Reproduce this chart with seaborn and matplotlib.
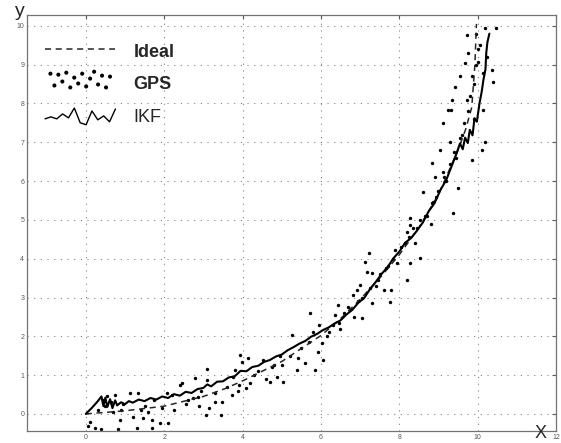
import numpy as np
import pandas as pd
import matplotlib
matplotlib.use("Agg")
import matplotlib.pyplot as plt
import seaborn as sns
from matplotlib.lines import Line2D
from matplotlib.legend_handler import HandlerBase

# Ideal trajectory
ideal_x = [0, 1, 2, 3, 3.55, 4, 5, 6, 6.5, 7, 7.5, 8, 8.5, 9, 9.5, 9.7, 9.85, 9.93, 9.97]
ideal_y = [0, 0.08, 0.2, 0.45, 0.65, 0.85, 1.35, 2.02, 2.45, 2.95, 3.5, 4.1, 4.8, 5.65, 6.8, 7.35, 7.9, 9.0, 10.05]

# IKF estimate
ikf_x = [0, 0.15, 0.3, 0.4, 0.45, 0.5, 0.55, 0.62, 0.68, 0.75, 0.8, 0.9, 1.0, 1.1, 1.2, 1.35,
         1.5, 1.65, 1.8, 1.95, 2.1, 2.25, 2.4, 2.55, 2.7, 2.85, 3.0, 3.1, 3.2, 3.35, 3.5, 3.65,
         3.8, 3.95, 4.1, 4.25, 4.4, 4.55, 4.7, 4.85, 5.0, 5.15, 5.3, 5.45, 5.6, 5.75, 5.9, 6.05,
         6.2, 6.35, 6.5, 6.65, 6.8, 6.95, 7.1, 7.25, 7.4, 7.55, 7.7, 7.85, 8.0, 8.15, 8.3, 8.45,
         8.6, 8.75, 8.9, 9.05, 9.2, 9.35, 9.45, 9.55, 9.62, 9.68, 9.75, 9.8, 9.87, 9.92, 9.98,
         10.05, 10.1, 10.15, 10.2, 10.22, 10.25, 10.3]
ikf_y = [0, 0.15, 0.32, 0.45, 0.2, 0.42, 0.18, 0.38, 0.15, 0.35, 0.22, 0.3, 0.25, 0.33, 0.29, 0.37,
         0.33, 0.41, 0.37, 0.45, 0.41, 0.51, 0.47, 0.57, 0.54, 0.64, 0.67, 0.76, 0.71, 0.83, 0.84, 0.94,
         0.97, 1.11, 1.1, 1.21, 1.24, 1.34, 1.39, 1.48, 1.53, 1.64, 1.72, 1.81, 1.88, 1.99, 2.06, 2.16,
         2.23, 2.33, 2.41, 2.56, 2.68, 2.86, 2.98, 3.21, 3.4, 3.61, 3.78, 4.01, 4.18, 4.41, 4.53, 4.72,
         4.93, 5.22, 5.43, 5.77, 6.03, 6.42, 6.68, 6.97, 6.82, 7.12, 6.98, 7.32, 7.18, 7.62, 7.53,
         8.02, 8.28, 8.62, 8.88, 9.3, 9.58, 9.8]

# GPS measurements
gps_x = [0.05, 0.12, 0.23, 0.4, 0.3, 0.45, 0.55, 0.5, 0.65, 0.74, 0.82, 0.87, 0.9, 0.95,
         1.12, 1.2, 1.3, 1.33, 1.45, 1.5, 1.6, 1.68, 1.68, 1.75, 1.9, 1.95,
         2.07, 2.1, 2.2, 2.25, 2.4, 2.45, 2.55, 2.73, 2.78, 2.86, 2.9, 2.95,
         3.08, 3.09, 3.1, 3.15, 3.3, 3.45, 3.47, 3.6, 3.72, 3.75, 3.8, 3.93, 3.98, 3.88,
         4.1, 4.18, 4.15, 4.3, 4.52, 4.6, 4.69, 4.75, 4.87, 5.0, 5.03, 4.95,
         5.25, 5.38, 5.41, 5.5, 5.6, 5.71, 5.84, 5.92, 6.02, 6.05, 5.8, 5.95,
         6.15, 6.3, 6.35, 6.43, 6.5, 6.6, 6.7, 6.81, 6.91, 6.99, 7.04, 6.85, 6.95,
         7.12, 7.17, 7.24, 7.3, 7.3, 7.4, 7.5, 7.6, 7.76, 7.8, 7.7, 7.88, 7.95,
         8.14, 8.19, 8.19, 8.27, 8.27, 8.27, 8.35, 8.4, 8.52, 8.52, 8.6, 8.7, 8.83, 8.83, 8.9, 8.8, 8.95,
         9.03, 9.11, 9.11, 9.2, 9.24, 9.29, 9.33, 9.34, 9.37, 9.41, 9.5, 9.54, 9.45, 9.6, 9.67,
         9.72, 9.72, 9.75, 9.85, 9.85, 9.9, 10.0,
         10.1, 10.13, 10.13, 10.18, 10.18, 10.36, 10.38, 10.48, 10.05, 10.25,
         6.2, 6.45, 6.75, 7.05, 7.25, 7.45, 7.65, 7.85, 8.05, 8.25, 8.45, 8.65, 8.85, 9.0,
         9.15, 9.3, 9.4, 9.55, 9.65, 9.75, 9.8, 9.9, 9.95, 10.0, 9.95,
         3.3, 3.9, 4.4, 4.8, 5.2, 5.7, 2.6, 1.4, 0.7]
gps_y = [-0.3, -0.2, -0.36, -0.4, 0.1, 0.35, 0.45, 0.2, 0.3, 0.49, -0.4, -0.15, 0.1, 0.25,
         0.53, -0.08, -0.36, 0.53, -0.1, 0.2, 0.05, -0.15, -0.36, 0.35, -0.23, 0.15,
         0.54, -0.23, 0.5, 0.1, 0.75, 0.8, 0.25, 0.41, 0.93, 0.44, 0.2, 0.6,
         -0.03, 0.88, 1.16, 0.15, 0.31, -0.03, 0.3, 0.7, 0.49, 0.95, 1.13, 1.52, 1.34, 0.6,
         0.67, 0.8, 1.45, 1.0, 1.39, 0.9, 0.82, 1.2, 0.95, 1.26, 0.82, 1.5,
         2.04, 1.13, 1.44, 1.7, 1.3, 2.6, 1.13, 1.6, 1.83, 1.39, 2.1, 2.3,
         2.0, 2.3, 2.55, 2.81, 2.2, 2.6, 2.75, 3.07, 3.2, 3.32, 2.47, 2.5, 2.9,
         3.92, 3.66, 4.15, 3.63, 2.86, 3.3, 3.6, 3.2, 2.89, 3.2, 3.8, 4.23, 3.9,
         4.41, 4.69, 3.45, 4.87, 3.89, 5.05, 4.79, 4.4, 4.02, 5.0, 5.72, 5.1, 6.47, 5.44, 6.1, 4.9, 5.6,
         6.8, 7.5, 6.24, 6.0, 7.84, 7.01, 7.84, 8.09, 5.18, 8.43, 5.82, 8.7, 6.6, 7.2, 9.05,
         9.77, 8.09, 9.3, 8.7, 6.55, 7.6, 9.07,
         6.8, 8.79, 7.84, 7.01, 9.95, 8.87, 8.56, 9.95, 9.5, 9.2,
         2.1, 2.35, 2.7, 3.0, 3.25, 3.45, 3.75, 4.0, 4.3, 4.55, 4.8, 5.1, 5.45, 5.75,
         6.1, 6.45, 6.75, 7.1, 7.5, 7.8, 8.2, 8.5, 9.0, 9.4, 9.8,
         0.55, 0.75, 1.1, 1.25, 1.5, 1.85, 0.35, 0.1, 0.05]

x_ticks = [0, 2, 4, 6, 8, 10, 12]
y_ticks = [0, 1, 2, 3, 4, 5, 6, 7, 8, 9, 10]

ideal_df = pd.DataFrame({"x": ideal_x, "y": ideal_y})
ikf_df = pd.DataFrame({"x": ikf_x, "y": ikf_y})
gps_df = pd.DataFrame({"x": gps_x, "y": gps_y})

sns.set_style("white")
plt.rcParams["font.family"] = ["Liberation Sans", "DejaVu Sans"]

fig = plt.figure(figsize=(5.61, 4.43), dpi=100)
ax = fig.add_axes([27 / 561, 1 - 431 / 443, 529 / 561, 416 / 443])

sns.lineplot(data=ideal_df, x="x", y="y", ax=ax, color="0.15", lw=1.1,
             linestyle=(0, (4, 3)), sort=False, estimator=None)
sns.scatterplot(data=gps_df, x="x", y="y", ax=ax, color="black", s=6,
                linewidth=0, marker="o")
sns.lineplot(data=ikf_df, x="x", y="y", ax=ax, color="black", lw=1.5,
             sort=False, estimator=None)

ax.set_xlim(-1.5, 12)
ax.set_ylim(-0.44, 10.28)
ax.set_xticks(x_ticks)
ax.set_yticks(y_ticks)
ax.set_xlabel("")
ax.set_ylabel("")
ax.grid(True, linestyle=(0, (1, 5)), color="0.5", lw=0.8)
ax.tick_params(direction="in", length=3, labelsize=5, colors="0.35",
               top=True, right=True, pad=2)
for sp in ax.spines.values():
    sp.set_color("0.45")
    sp.set_linewidth(0.9)

fig.text(20 / 561, 1 - 12 / 443, "y", fontsize=14, ha="center", va="center")
fig.text(541 / 561, 1 - 434 / 443, "X", fontsize=13, ha="center", va="center")


# zigzag handle for the IKF entry
class HandlerZigzag(HandlerBase):
    def create_artists(self, legend, orig_handle, xdescent, ydescent,
                       width, height, fontsize, trans):
        fr = [0.35, 0.45, 0.35, 0.6, 0.4, 0.9, 0.15, 0.05, 0.75, 0.3, 0.5, 0.2, 0.85]
        xs = np.linspace(0, width, len(fr)) - xdescent
        ys = np.array(fr) * height - ydescent
        return [Line2D(xs, ys, color="black", lw=1.0, transform=trans)]


h_ideal = Line2D([], [], color="0.15", lw=1.1, linestyle=(0, (4, 3)))
h_gps = ax.collections[0]
h_ikf = Line2D([], [], color="black")
leg = ax.legend([h_ideal, h_gps, h_ikf], ["Ideal", "GPS", "IKF"],
                handler_map={h_ikf: HandlerZigzag()},
                loc="upper left", bbox_to_anchor=(18 / 529, 1 - 26 / 416),
                frameon=False, fontsize=13, handlelength=3.9, handleheight=1.3,
                handletextpad=1.0, labelspacing=0.7, borderpad=0, borderaxespad=0,
                scatterpoints=16,
                scatteryoffsets=[0.8, 0.2, 0.75, 0.4, 0.85, 0.1, 0.6, 0.3,
                                 0.8, 0.15, 0.55, 0.9, 0.25, 0.7, 0.1, 0.65],
                markerscale=1.2)
leg.get_texts()[0].set_fontweight("bold")
leg.get_texts()[1].set_fontweight("bold")

fig.savefig("out.png", dpi=100)
